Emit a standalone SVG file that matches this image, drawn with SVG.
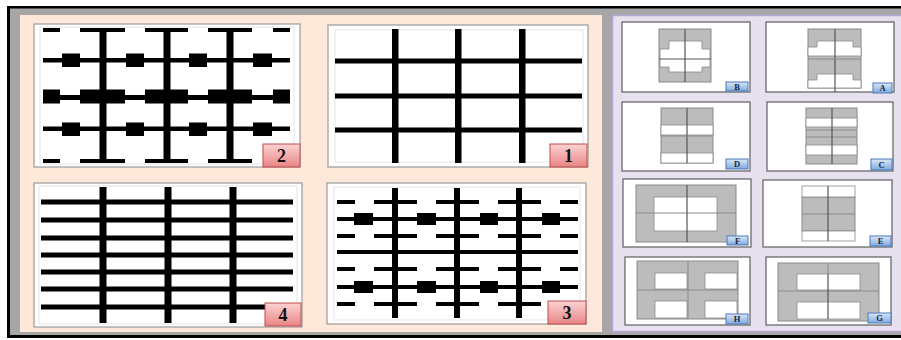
<svg xmlns="http://www.w3.org/2000/svg" width="901" height="340" viewBox="0 0 901 340">
<defs>
<linearGradient id="pink" x1="0" y1="0" x2="0" y2="1">
<stop offset="0" stop-color="#fbd3d3"/><stop offset="1" stop-color="#e98585"/>
</linearGradient>
<linearGradient id="blue" x1="0" y1="0" x2="0" y2="1">
<stop offset="0" stop-color="#dbe8fa"/><stop offset="1" stop-color="#7fa9de"/>
</linearGradient>
</defs>
<style>
.card{fill:#fff;stroke:#9a9a9a;stroke-width:1.2}
.inner{fill:none;stroke:#e4e4e4;stroke-width:1}
.blk{fill:#000}
.rcard{fill:#fff;stroke:#6a6a6a;stroke-width:1.3}
.gr{fill:#bcbcbc;stroke:#8a8a8a;stroke-width:1}
.wh{fill:#fff;stroke:#8a8a8a;stroke-width:0.8}
.ln{stroke:#555;stroke-width:1.2;fill:none}
.lnf{stroke:#8a8a8a;stroke-width:1;fill:none}
.ptag{fill:url(#pink);stroke:#c24a4a;stroke-width:1}
.btag{fill:url(#blue);stroke:#4a78b8;stroke-width:1}
.pt{font-family:"Liberation Serif",serif;font-weight:bold;font-size:18px;fill:#111;text-anchor:middle}
.bt{font-family:"Liberation Serif",serif;font-weight:bold;font-size:8.5px;fill:#1a2440;text-anchor:middle}
</style>
<!-- frame -->
<rect x="0" y="0" width="901" height="340" fill="#fff"/>
<rect x="8" y="7" width="893" height="330" fill="#a6a6a6"/>
<rect x="8" y="6" width="893" height="2.5" fill="#000"/>
<rect x="7" y="6" width="3" height="332" fill="#000"/>
<rect x="7" y="335" width="894" height="3" fill="#000"/>
<rect x="20" y="15" width="582" height="317" fill="#fde8da"/>
<rect x="612.5" y="15.5" width="290" height="316" fill="#e7e0ee" stroke="#b7a6d6" stroke-width="1.5"/>

<g id="card2">
<rect class="card" x="34" y="24" width="266" height="143"/>
<rect class="inner" x="40" y="27" width="254" height="137"/>
<g class="blk">
<rect x="99.5" y="30" width="7" height="133"/><rect x="163.5" y="30" width="7" height="133"/><rect x="226.5" y="30" width="7" height="133"/>
<rect x="43" y="28" width="17" height="4"/><rect x="80" y="28" width="45" height="4"/><rect x="145" y="28" width="43" height="4"/><rect x="208" y="28" width="44" height="4"/><rect x="273" y="28" width="17" height="4"/>
<rect x="43" y="159" width="17" height="4"/><rect x="80" y="159" width="45" height="4"/><rect x="145" y="159" width="43" height="4"/><rect x="208" y="159" width="44" height="4"/><rect x="273" y="159" width="17" height="4"/>
<rect x="43" y="58" width="247" height="4.5"/>
<rect x="62" y="53.5" width="18" height="13.5"/><rect x="126" y="53.5" width="18" height="13.5"/><rect x="189" y="53.5" width="18" height="13.5"/><rect x="253" y="53.5" width="19" height="13.5"/>
<rect x="43" y="95" width="247" height="5"/>
<rect x="43" y="89.5" width="17" height="14"/><rect x="80" y="89.5" width="45" height="14"/><rect x="145" y="89.5" width="43" height="14"/><rect x="208" y="89.5" width="44" height="14"/><rect x="273" y="89.5" width="17" height="14"/>
<rect x="43" y="126.5" width="247" height="4.5"/>
<rect x="62" y="122.5" width="18" height="13.5"/><rect x="126" y="122.5" width="18" height="13.5"/><rect x="189" y="122.5" width="18" height="13.5"/><rect x="253" y="122.5" width="19" height="13.5"/>
</g>
<rect class="ptag" x="263" y="144" width="37" height="23"/>
<text class="pt" x="281.5" y="162">2</text>
</g>

<g id="card1">
<rect class="card" x="328" y="25" width="260" height="142"/>
<rect class="inner" x="335" y="30" width="248" height="132"/>
<g class="blk">
<rect x="392" y="29" width="6.5" height="134"/><rect x="455" y="29" width="6.5" height="134"/><rect x="519" y="29" width="6.5" height="134"/>
<rect x="335" y="58.5" width="247" height="5"/><rect x="335" y="93.5" width="247" height="5"/><rect x="335" y="127.5" width="247" height="5"/>
</g>
<rect class="ptag" x="550" y="144" width="37" height="23"/>
<text class="pt" x="568.5" y="162">1</text>
</g>

<g id="card4">
<rect class="card" x="34" y="183" width="268" height="144"/>
<rect class="inner" x="39" y="186" width="258" height="138"/>
<g class="blk">
<rect x="99.5" y="187" width="7" height="136"/><rect x="164.5" y="187" width="7" height="136"/><rect x="229.5" y="187" width="7" height="136"/>
<rect x="41" y="199.5" width="252" height="5"/><rect x="41" y="217.5" width="252" height="5"/><rect x="41" y="235.5" width="252" height="5"/><rect x="41" y="252.5" width="252" height="5"/><rect x="41" y="269.5" width="252" height="5"/><rect x="41" y="286.5" width="252" height="5"/><rect x="41" y="304.5" width="252" height="5"/>
</g>
<rect class="ptag" x="265" y="303" width="36" height="23"/>
<text class="pt" x="283" y="321">4</text>
</g>

<g id="card3">
<rect class="card" x="327" y="183" width="259" height="141"/>
<rect class="inner" x="334" y="187" width="246" height="133"/>
<g class="blk">
<rect x="392" y="188" width="6" height="130"/><rect x="454" y="188" width="6" height="130"/><rect x="516" y="188" width="6" height="130"/>
<rect x="337" y="200" width="18" height="4"/><rect x="374" y="200" width="43" height="4"/><rect x="436" y="200" width="43" height="4"/><rect x="498" y="200" width="43" height="4"/><rect x="560" y="200" width="18" height="4"/>
<rect x="337" y="234" width="18" height="4"/><rect x="374" y="234" width="43" height="4"/><rect x="436" y="234" width="43" height="4"/><rect x="498" y="234" width="43" height="4"/><rect x="560" y="234" width="18" height="4"/>
<rect x="337" y="267" width="18" height="4"/><rect x="374" y="267" width="43" height="4"/><rect x="436" y="267" width="43" height="4"/><rect x="498" y="267" width="43" height="4"/><rect x="560" y="267" width="18" height="4"/>
<rect x="337" y="302" width="18" height="4"/><rect x="374" y="302" width="43" height="4"/><rect x="436" y="302" width="43" height="4"/><rect x="498" y="302" width="43" height="4"/><rect x="560" y="302" width="18" height="4"/>
<rect x="337" y="217" width="241" height="4"/>
<rect x="354" y="213" width="19" height="12"/><rect x="417" y="213" width="19" height="12"/><rect x="480" y="213" width="18" height="12"/><rect x="542" y="213" width="18" height="12"/>
<rect x="337" y="250" width="241" height="4"/>
<rect x="337" y="285" width="241" height="4"/>
<rect x="354" y="281" width="19" height="12"/><rect x="417" y="281" width="19" height="12"/><rect x="480" y="281" width="18" height="12"/><rect x="542" y="281" width="18" height="12"/>
</g>
<rect class="ptag" x="548" y="301" width="38" height="23"/>
<text class="pt" x="567" y="319">3</text>
</g>

<g id="cardB">
<rect class="rcard" x="622" y="22" width="128" height="70"/>
<rect class="gr" x="659" y="29" width="52" height="53"/>
<path class="wh" d="M669,41 H702 V49 H710 V67 H702 V72 H669 V67 H660 V49 H669 Z"/>
<line class="ln" x1="685" y1="29" x2="685" y2="82"/>
<line class="ln" x1="659" y1="59" x2="711" y2="59"/>
<rect class="btag" x="726" y="82" width="22" height="9"/>
<text class="bt" x="737" y="89.5">B</text>
</g>

<g id="cardA">
<rect class="rcard" x="766" y="22" width="128" height="70"/>
<rect class="gr" x="808" y="29" width="53" height="59"/>
<path class="wh" d="M817,41 H853 V47 H861 V56 H808 V47 H817 Z"/>
<path class="wh" d="M817,74 H853 V80 H861 V88 H808 V80 H817 Z"/>
<line class="ln" x1="835" y1="29" x2="835" y2="92"/>
<line class="lnf" x1="808" y1="59" x2="861" y2="59"/>
<rect class="btag" x="873" y="83" width="19" height="10"/>
<text class="bt" x="882.5" y="91">A</text>
</g>

<g id="cardD">
<rect class="rcard" x="622" y="102" width="128" height="69"/>
<rect class="gr" x="661" y="108" width="52" height="55"/>
<rect class="wh" x="661" y="125" width="52" height="10"/>
<rect class="wh" x="661" y="153" width="52" height="10"/>
<line class="ln" x1="687" y1="108" x2="687" y2="163"/>
<line class="lnf" x1="661" y1="136" x2="713" y2="136"/>
<rect class="btag" x="726" y="159" width="22" height="10"/>
<text class="bt" x="737" y="167">D</text>
</g>

<g id="cardC">
<rect class="rcard" x="767" y="102" width="126" height="69"/>
<rect class="gr" x="806" y="108" width="51" height="56"/>
<rect class="wh" x="806" y="118" width="51" height="9"/>
<rect class="wh" x="806" y="145" width="51" height="10"/>
<line class="lnf" x1="806" y1="130" x2="857" y2="130"/>
<line class="lnf" x1="806" y1="137" x2="857" y2="137"/>
<line class="ln" x1="832" y1="108" x2="832" y2="164"/>
<rect class="btag" x="871" y="159" width="21" height="11"/>
<text class="bt" x="881.5" y="167.5">C</text>
</g>

<g id="cardF">
<rect class="rcard" x="623" y="179" width="128" height="68"/>
<rect class="gr" x="636" y="185" width="100" height="57"/>
<rect class="wh" x="654" y="197" width="63" height="34"/>
<line class="lnf" x1="636" y1="213" x2="736" y2="213"/>
<line class="ln" x1="687" y1="185" x2="687" y2="242"/>
<rect class="btag" x="727" y="236" width="21" height="9"/>
<text class="bt" x="737.5" y="243.5">F</text>
</g>

<g id="cardE">
<rect class="rcard" x="763" y="180" width="129" height="67"/>
<rect class="gr" x="802" y="197" width="53" height="34"/>
<rect class="wh" x="802" y="186" width="53" height="11"/>
<rect class="wh" x="802" y="231" width="53" height="10"/>
<line class="lnf" x1="802" y1="214" x2="855" y2="214"/>
<line class="ln" x1="828" y1="186" x2="828" y2="241"/>
<rect class="btag" x="870" y="236" width="21" height="10"/>
<text class="bt" x="880.5" y="244">E</text>
</g>

<g id="cardH">
<rect class="rcard" x="625" y="257" width="125" height="68"/>
<rect class="gr" x="637" y="261" width="101" height="58"/>
<rect class="wh" x="655" y="273" width="32" height="16"/>
<rect class="wh" x="705" y="273" width="32" height="16"/>
<rect class="wh" x="655" y="301" width="32" height="17"/>
<rect class="wh" x="705" y="301" width="32" height="17"/>
<line class="lnf" x1="637" y1="290" x2="738" y2="290"/>
<line class="lnf" x1="688" y1="261" x2="688" y2="319"/>
<rect class="btag" x="726" y="314" width="22" height="10"/>
<text class="bt" x="737" y="322">H</text>
</g>

<g id="cardG">
<rect class="rcard" x="766" y="257" width="125" height="68"/>
<rect class="gr" x="778" y="263" width="101" height="58"/>
<rect class="wh" x="797" y="274" width="63" height="16"/>
<rect class="wh" x="797" y="302" width="63" height="17"/>
<line class="lnf" x1="778" y1="291" x2="879" y2="291"/>
<line class="ln" x1="828" y1="274" x2="828" y2="319"/>
<line class="lnf" x1="828" y1="263" x2="828" y2="274"/>
<rect class="btag" x="868" y="313" width="23" height="10"/>
<text class="bt" x="879.5" y="321">G</text>
</g>
</svg>
